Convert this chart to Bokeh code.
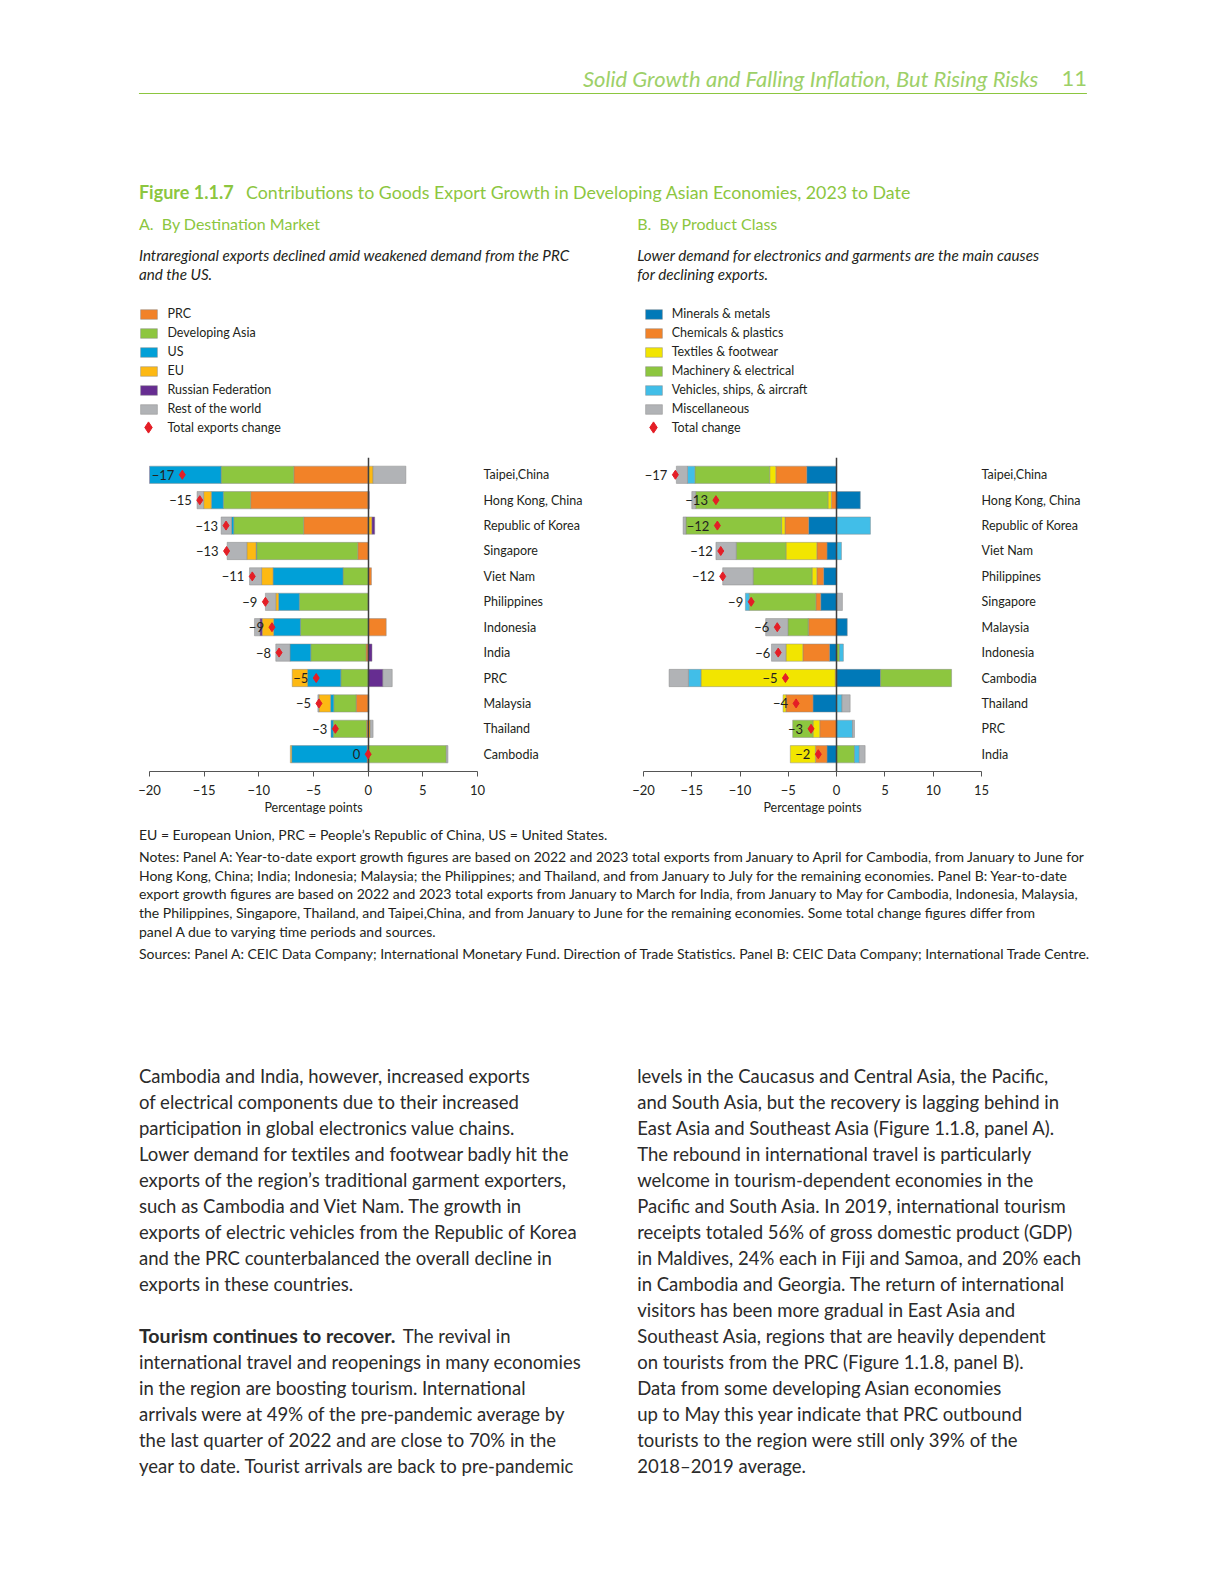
import numpy as np
from bokeh.plotting import figure
from bokeh.models import Range1d, FactorRange, Legend, LegendItem, FixedTicker, ColumnDataSource
from bokeh.layouts import column, row
from bokeh.embed import file_html
from bokeh.resources import INLINE
from bokeh.core.properties import value

FONT = "Lato"
INK = "#231F20"
GREEN = "#8CC63F"

# ---------------- Panel A data: by destination market ----------------
cats_a = ["Taipei,China", "Hong Kong, China", "Republic of Korea", "Singapore", "Viet Nam",
          "Philippines", "Indonesia", "India", "PRC", "Malaysia", "Thailand", "Cambodia"]
prc_a = [-6.8, -10.75, -5.9, -0.95, 0.3, 0.0, 1.65, -0.2, 0.0, -1.1, -0.15, -0.1]
devasia_a = [-6.65, -2.5, -6.4, -9.25, -2.3, -6.3, -6.2, -5.05, -2.5, -2.05, -3.05, 7.15]
us_a = [-6.8, -1.1, -0.2, -0.05, -6.4, -1.9, -2.45, -1.9, -3.05, -0.3, -0.2, -6.9]
eu_a = [0.45, -0.7, 0.35, -0.85, -1.05, -0.25, -1.05, 0.0, -1.4, -1.05, 0.2, -0.12]
russia_a = [-0.05, 0.1, 0.25, 0.0, 0.0, 0.0, -0.2, 0.35, 1.35, 0.05, 0.0, 0.0]
rest_a = [3.0, -0.6, -0.95, -1.8, -1.1, -0.95, -0.5, -1.3, 0.85, -0.1, 0.25, 0.15]
total_a = [-17.0, -15.4, -13.0, -12.95, -10.6, -9.4, -8.8, -8.15, -4.75, -4.5, -3.0, 0.0]
labels_a = ["−17", "−15", "−13", "−13", "−11", "−9", "−9", "−8", "−5", "−5", "−3", "0"]
names_a = ["PRC", "Developing Asia", "US", "EU", "Russian Federation", "Rest of the world"]
colors_a = ["#F28228", "#8DC63F", "#00A0D8", "#FDB913", "#662D91", "#B1B3B6"]
ticks_a = [-20, -15, -10, -5, 0, 5, 10]

# ---------------- Panel B data: by product class ----------------
cats_b = ["Taipei,China", "Hong Kong, China", "Republic of Korea", "Viet Nam", "Philippines",
          "Singapore", "Malaysia", "Indonesia", "Cambodia", "Thailand", "PRC", "India"]
minerals_b = [-3.1, 2.45, -2.9, -1.0, -1.35, -1.65, 1.1, -0.75, 4.55, -2.45, 0.0, -1.0]
chemicals_b = [-3.2, -0.55, -2.45, -1.05, -0.7, -0.5, -2.9, -2.75, -0.15, -2.8, -1.75, -1.2]
textiles_b = [-0.63, -0.35, -0.35, -3.2, -0.5, 0.0, -0.05, -1.75, -13.9, -0.3, -0.7, -2.6]
machinery_b = [-7.75, -13.7, -9.9, -5.15, -6.1, -6.9, -2.1, 0.3, 7.35, 0.0, -2.1, 1.85]
vehicles_b = [-0.77, 0.0, 3.5, 0.5, 0.0, -0.4, 0.0, 0.4, -1.3, 0.55, 1.65, 0.5]
misc_b = [-1.15, -0.4, -0.3, -2.1, -3.15, 0.6, -2.3, -1.5, -2.0, 0.85, 0.2, 0.6]
total_b = [-16.7, -12.5, -12.35, -12.0, -11.8, -8.85, -6.15, -6.05, -5.3, -4.2, -2.65, -1.9]
labels_b = ["−17", "−13", "−12", "−12", "−12", "−9", "−6", "−6", "−5", "−4", "−3", "−2"]
names_b = ["Minerals & metals", "Chemicals & plastics", "Textiles & footwear",
           "Machinery & electrical", "Vehicles, ships, & aircraft", "Miscellaneous"]
colors_b = ["#0079B8", "#F28228", "#F2E500", "#8DC63F", "#41BEE8", "#B1B3B6"]
ticks_b = [-20, -15, -10, -5, 0, 5, 10, 15]

RED = "#E41E26"
BAR_LINE = "#8A8A8A"
S = 0.9895  # page-to-layout calibration

T_LEG, T_CHART, T_FOOT = 295, 445, 821


def stacked(cats, series, colors, totals, labels, xr, ticks, width, left, right, cat_standoff):
    n = len(cats)
    p = figure(width=width, height=T_FOOT - T_CHART,
               y_range=FactorRange(factors=cats[::-1], range_padding=0.03),
               x_range=Range1d(*xr), y_axis_location="right", output_backend="svg",
               toolbar_location=None, min_border_left=left, min_border_right=right,
               min_border_top=12, min_border_bottom=50)
    pos = np.zeros(n)
    neg = np.zeros(n)
    for vals, col in zip(series, colors):
        v = np.array(vals, dtype=float)
        lft = np.where(v >= 0, pos, neg + v)
        rgt = np.where(v >= 0, pos + v, neg)
        pos = pos + np.clip(v, 0, None)
        neg = neg + np.clip(v, None, 0)
        src = ColumnDataSource(dict(y=cats, left=lft, right=rgt,
                                    la=np.where(v == 0, 0.0, 0.8)))
        p.hbar(y="y", left="left", right="right", height=0.68, source=src,
               fill_color=col, line_color=BAR_LINE, line_width=0.6, line_alpha="la")
    p.vspan(x=[0], line_color="#3F3F3F", line_width=1.5)
    p.scatter(x=totals, y=cats, marker="diamond", size=9, fill_color=RED, line_color=RED)
    p.text(x=totals, y=cats, text=labels, x_offset=-8, text_align="right",
           text_baseline="middle", text_font=value(FONT), text_font_size="13px",
           text_color=INK)

    p.grid.visible = False
    p.outline_line_color = None
    ax = p.xaxis[0]
    ax.ticker = FixedTicker(ticks=ticks)
    ax.major_label_overrides = {t: str(t).replace("-", "−") for t in ticks}
    ax.minor_tick_line_color = None
    ax.major_tick_in = 0
    ax.major_tick_out = 5
    ax.axis_line_color = "#555555"
    ax.major_tick_line_color = "#555555"
    ax.major_label_standoff = 8
    ax.major_label_text_font = FONT
    ax.major_label_text_font_size = "13px"
    ax.major_label_text_color = INK
    ax.axis_label = "Percentage points"
    ax.axis_label_standoff = 2
    ax.axis_label_text_font = FONT
    ax.axis_label_text_font_size = "12.5px"
    ax.axis_label_text_font_style = "normal"
    ax.axis_label_text_color = INK
    ya = p.yaxis[0]
    ya.axis_line_color = None
    ya.major_tick_line_color = None
    ya.minor_tick_line_color = None
    ya.major_label_standoff = cat_standoff
    ya.major_label_text_font = FONT
    ya.major_label_text_font_size = "12.5px"
    ya.major_label_text_color = INK
    return p


def legend_fig(names, colors, total_name, width, x0):
    # legend-only panel; proxy renderers sit outside the visible range
    f = figure(width=width, height=T_CHART - T_LEG, x_range=Range1d(0, 1), y_range=Range1d(0, 1),
               x_axis_type=None, y_axis_type=None, output_backend="svg",
               toolbar_location=None, min_border=0)
    f.grid.visible = False
    f.outline_line_color = None
    common = dict(orientation="vertical", border_line_color=None, background_fill_alpha=0,
                  margin=0, padding=0, spacing=4, label_height=15, label_text_font=FONT,
                  label_text_font_size="12.5px", label_text_color=INK)
    items = []
    for name, col in zip(names, colors):
        r = f.hbar(y=[-5], left=[-5], right=[-4], height=0.5, fill_color=col,
                   line_color=BAR_LINE, line_width=0.6, line_alpha=0.8)
        items.append(LegendItem(label=name, renderers=[r]))
    f.add_layout(Legend(items=items, location=(x0, 29), glyph_height=12, glyph_width=21,
                        label_standoff=8, **common))
    d = f.scatter(x=[-5], y=[-5], marker="diamond", size=10, fill_color=RED, line_color=RED)
    f.add_layout(Legend(items=[LegendItem(label=total_name, renderers=[d])],
                        location=(x0 - 4, 4), glyph_height=28, glyph_width=28,
                        label_standoff=5, **common))
    return f


figA = stacked(cats_a, [prc_a, devasia_a, us_a, eu_a, russia_a, rest_a], colors_a,
               total_a, labels_a, (-20, 10), ticks_a, 596, 149, 119, 0)
figB = stacked(cats_b, [minerals_b, chemicals_b, textiles_b, machinery_b, vehicles_b, misc_b],
               colors_b, total_b, labels_b, (-20, 15), ticks_b, 612, 47, 227, -6)
legA = legend_fig(names_a, colors_a, "Total exports change", 596, 137 / S)
legB = legend_fig(names_b, colors_b, "Total change", 612, 636 / S - 596)


# ---------------- page text canvases ----------------
def canvas(w, h):
    f = figure(width=w, height=h, x_range=Range1d(0, w), y_range=Range1d(h, 0),
               x_axis_type=None, y_axis_type=None, output_backend="svg",
               toolbar_location=None, min_border=0)
    f.grid.visible = False
    f.outline_line_color = None
    return f


def put(f, top, xs, ys, texts, size, color=INK, style="normal", align="left"):
    f.text(x=[x / S for x in xs], y=[y / S - top for y in ys], text=texts,
           text_font=value(FONT), text_font_size=size, text_font_style=style,
           text_color=color, text_align=align, text_baseline="middle")


head = canvas(1208, T_LEG)
put(head, 0, [1027], [77], ["Solid Growth and Falling Inflation, But Rising Risks"], "22px",
    color="#9DD068", style="italic", align="right")
put(head, 0, [1075], [77], ["11"], "22px", color="#9DD068", align="right")
head.segment(x0=[137 / S], x1=[1075 / S], y0=[92 / S], y1=[92 / S],
             line_color=GREEN, line_width=1.2)
put(head, 0, [137], [189], ["Figure 1.1.7"], "18px", color=GREEN, style="bold")
put(head, 0, [243], [189],
    ["Contributions to Goods Export Growth in Developing Asian Economies, 2023 to Date"],
    "17.8px", color=GREEN)
put(head, 0, [137, 630], [221, 221],
    ["A.\u00a0 By Destination Market", "B.\u00a0 By Product Class"], "16px", color=GREEN)
put(head, 0, [137, 137], [252, 271],
    ["Intraregional exports declined amid weakened demand from the PRC", "and the US."],
    "15.2px", style="italic")
put(head, 0, [630, 630], [252, 271],
    ["Lower demand for electronics and garments are the main causes", "for declining exports."],
    "15.2px", style="italic")

foot = canvas(1208, 1568 - T_FOOT)
notes = [
    "EU = European Union, PRC = People’s Republic of China, US = United States.",
    "Notes: Panel A: Year-to-date export growth figures are based on 2022 and 2023 total exports from January to April for Cambodia, from January to June for",
    "Hong Kong, China; India; Indonesia; Malaysia; the Philippines; and Thailand, and from January to July for the remaining economies. Panel B: Year-to-date",
    "export growth figures are based on 2022 and 2023 total exports from January to March for India, from January to May for Cambodia, Indonesia, Malaysia,",
    "the Philippines, Singapore, Thailand, and Taipei,China, and from January to June for the remaining economies. Some total change figures differ from",
    "panel A due to varying time periods and sources.",
    "Sources: Panel A: CEIC Data Company; International Monetary Fund. Direction of Trade Statistics. Panel B: CEIC Data Company; International Trade Centre.",
]
put(foot, T_FOOT, [137] * 7, [825, 847, 865.5, 884, 902.5, 921, 943], notes, "14px")

left_lines = [
    "Cambodia and India, however, increased exports",
    "of electrical components due to their increased",
    "participation in global electronics value chains.",
    "Lower demand for textiles and footwear badly hit the",
    "exports of the region’s traditional garment exporters,",
    "such as Cambodia and Viet Nam. The growth in",
    "exports of electric vehicles from the Republic of Korea",
    "and the PRC counterbalanced the overall decline in",
    "exports in these countries.",
]
left_lines2 = [
    "international travel and reopenings in many economies",
    "in the region are boosting tourism. International",
    "arrivals were at 49% of the pre-pandemic average by",
    "the last quarter of 2022 and are close to 70% in the",
    "year to date. Tourist arrivals are back to pre-pandemic",
]
right_lines = [
    "levels in the Caucasus and Central Asia, the Pacific,",
    "and South Asia, but the recovery is lagging behind in",
    "East Asia and Southeast Asia (Figure 1.1.8, panel A).",
    "The rebound in international travel is particularly",
    "welcome in tourism-dependent economies in the",
    "Pacific and South Asia. In 2019, international tourism",
    "receipts totaled 56% of gross domestic product (GDP)",
    "in Maldives, 24% each in Fiji and Samoa, and 20% each",
    "in Cambodia and Georgia. The return of international",
    "visitors has been more gradual in East Asia and",
    "Southeast Asia, regions that are heavily dependent",
    "on tourists from the PRC (Figure 1.1.8, panel B).",
    "Data from some developing Asian economies",
    "up to May this year indicate that PRC outbound",
    "tourists to the region were still only 39% of the",
    "2018–2019 average.",
]
pitch = 25.73
ys_all = [1064 + i * pitch for i in range(16)]
BODY = "18.5px"
BODYC = "#2B2B2B"
put(foot, T_FOOT, [137] * 9, ys_all[:9], left_lines, BODY, color=BODYC)
put(foot, T_FOOT, [137], [ys_all[10]], ["Tourism continues to recover."], "19.6px",
    color=BODYC, style="bold")
put(foot, T_FOOT, [398], [ys_all[10]], ["The revival in"], BODY, color=BODYC)
put(foot, T_FOOT, [137] * 5, ys_all[11:], left_lines2, BODY, color=BODYC)
put(foot, T_FOOT, [630] * 16, ys_all, right_lines, BODY, color=BODYC)

page = column(head, row(legA, legB), row(figA, figB), foot)
open("out.html", "w").write(file_html(page, INLINE))
